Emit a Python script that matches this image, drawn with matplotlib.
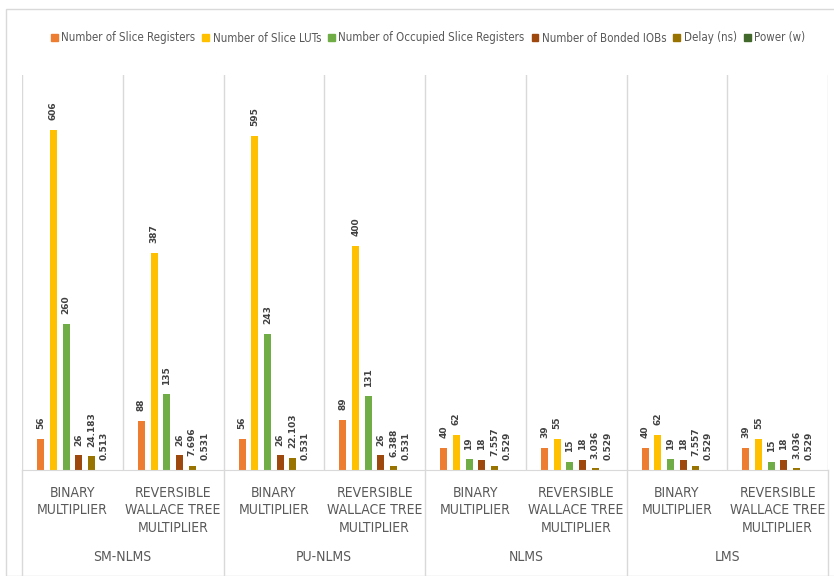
import matplotlib
matplotlib.use("Agg")
import matplotlib.pyplot as plt
from matplotlib.patches import Patch, Rectangle
from matplotlib.transforms import blended_transform_factory
from matplotlib import font_manager
import numpy as np

plt.rcParams['font.family'] = ['DejaVu Sans']

# use the condensed face if it is there
cond_file = font_manager.findfont(font_manager.FontProperties(family='DejaVu Sans', stretch='condensed'))
has_cond = 'Condensed' in cond_file
stretch = 'condensed' if has_cond else 'normal'

# data
groups = ['SM-NLMS', 'PU-NLMS', 'NLMS', 'LMS']
subcats = ['BINARY\nMULTIPLIER', 'REVERSIBLE\nWALLACE TREE\nMULTIPLIER']
series = ['Number of Slice Registers', 'Number of Slice LUTs',
          'Number of Occupied Slice Registers', 'Number of Bonded IOBs',
          'Delay (ns)', 'Power (w)']
slice_regs = [56, 88, 56, 89, 40, 39, 40, 39]
slice_luts = [606, 387, 595, 400, 62, 55, 62, 55]
occupied = [260, 135, 243, 131, 19, 15, 19, 15]
bonded_iobs = [26, 26, 26, 26, 18, 18, 18, 18]
delay = [24.183, 7.696, 22.103, 6.388, 7.557, 3.036, 7.557, 3.036]
power = [0.513, 0.531, 0.531, 0.531, 0.529, 0.529, 0.529, 0.529]
values = [slice_regs, slice_luts, occupied, bonded_iobs, delay, power]
colors = ['#ED7D31', '#FFC000', '#70AD47', '#9E480E', '#997300', '#43682B']

W, H = 834, 576
fig = plt.figure(figsize=(W / 100, H / 100), dpi=100)
fig.patches.append(Rectangle((6 / W, 0), 1, 1 - 9 / H, transform=fig.transFigure,
                             fill=False, edgecolor='#D9D9D9', lw=1))

left, right, top, bottom = 22, 828, 75, 470
ax = fig.add_axes([left / W, 1 - bottom / H, (right - left) / W, (bottom - top) / H])

n = len(slice_regs)
x = np.arange(n)
step = 0.126
width = 0.07
for i, (vals, col) in enumerate(zip(values, colors)):
    pos = x + (i - 2.5) * step
    ax.bar(pos, vals, width=width, color=col, label=series[i])
    for p, v in zip(pos, vals):
        txt = str(v) if isinstance(v, int) else '{:.3f}'.format(v)
        ax.annotate(txt, (p, v), xytext=(0, 7), textcoords='offset points',
                    rotation=90, ha='center', va='bottom', fontsize=6.5,
                    fontweight='bold', color='#404040')

ax.set_xlim(-0.5, n - 0.5)
ax.set_ylim(0, 704)
ax.set_xticks([])
ax.set_yticks([])
for s in ['top', 'right', 'left']:
    ax.spines[s].set_visible(False)
ax.spines['bottom'].set_color('#D9D9D9')

# vertical separators
bt = blended_transform_factory(ax.transData, fig.transFigure)
for b in np.arange(-0.5, n, 1.0):
    major = (b + 0.5) % 2 == 0
    ax.axvline(b, color='#D9D9D9', lw=1, zorder=0)
    if major or b == n - 0.5:
        ax.plot([b, b], [0, 1 - bottom / H], transform=bt, color='#D9D9D9',
                lw=1, clip_on=False)

# category labels
cat_size = 10 if has_cond else 8.5
for i in range(n):
    ax.text(i, 1 - 486 / H, subcats[i % 2], transform=bt, ha='center', va='top',
            fontsize=cat_size, fontstretch=stretch, color='#595959', linespacing=1.3)
for g, name in enumerate(groups):
    ax.text(2 * g + 0.5, 1 - 557 / H, name, transform=bt, ha='center',
            va='center', fontsize=cat_size, fontstretch=stretch, color='#595959')

handles = [Patch(color=c, label=s) for c, s in zip(colors, series)]
leg_size = 8.3 if has_cond else 7
leg = fig.legend(handles=handles, loc='center', bbox_to_anchor=(428 / W, 1 - 38 / H),
                 ncol=6, frameon=False, handlelength=0.6, handleheight=0.6,
                 handletextpad=0.3, columnspacing=0.6, labelcolor='#595959',
                 prop=font_manager.FontProperties(size=leg_size, stretch=stretch))

fig.savefig('out.png', dpi=100)
